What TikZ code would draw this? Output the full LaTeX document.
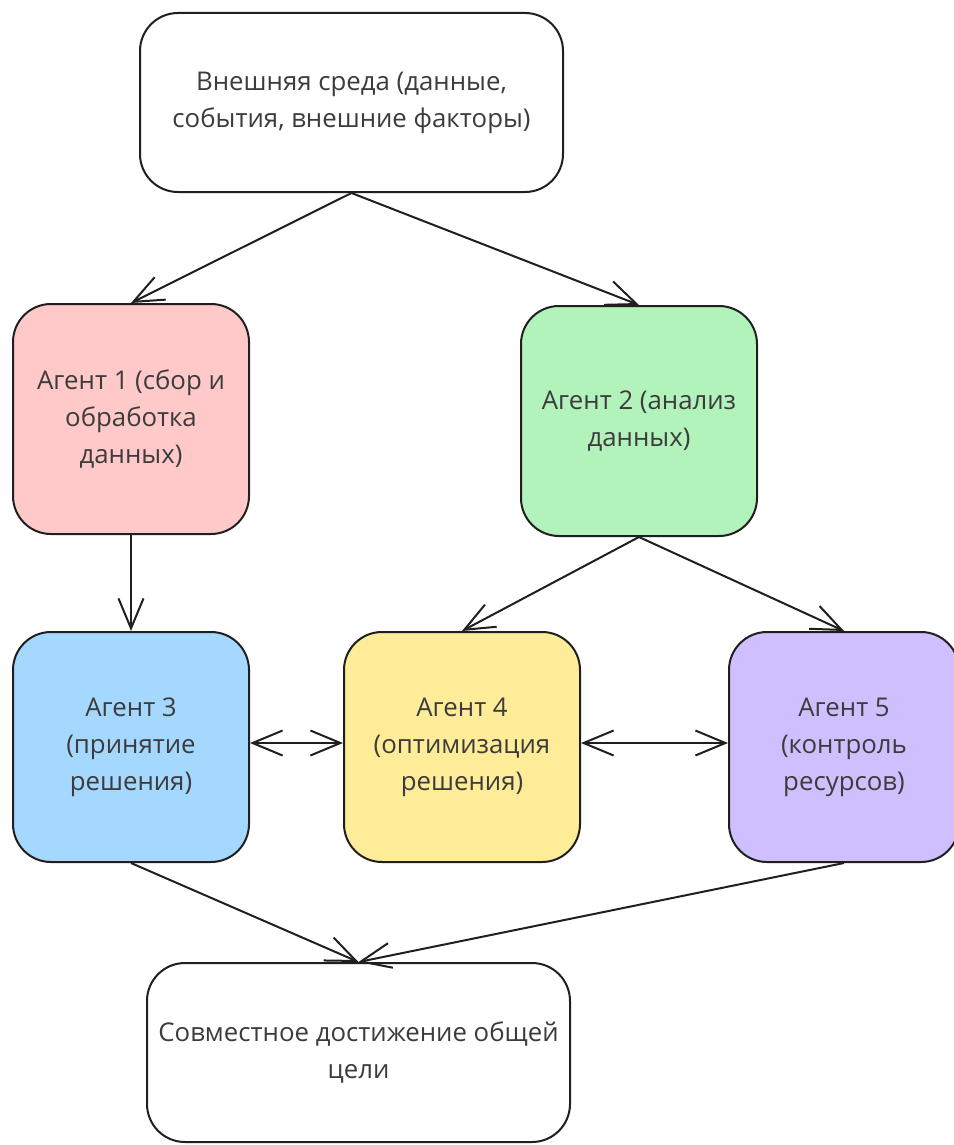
\documentclass[tikz,border=0pt]{standalone}
\usepackage{fontspec}
\setmainfont{Open Sans}
\usepackage{tikz}
\usetikzlibrary{arrows.meta,positioning}
\definecolor{txtgray}{HTML}{3C3C3C}
\definecolor{agentred}{HTML}{FFC9C9}
\definecolor{agentgreen}{HTML}{B2F2BB}
\definecolor{agentblue}{HTML}{A5D8FF}
\definecolor{agentyellow}{HTML}{FFEC99}
\definecolor{agentviolet}{HTML}{D0BFFF}

\begin{document}
\begin{tikzpicture}[x=1pt,y=-1pt,->,>={Straight Barb[length=30pt,width=25pt]},
                    line width=2pt,
                    every edge/.append style={draw=black!88},
                    main node/.style={rectangle,rounded corners=38pt,draw=black!88,line width=2pt,
                      align=center,text=txtgray,font=\fontsize{25.8pt}{37pt}\selectfont,
                      inner sep=0pt,execute at begin node={\rule{0pt}{34pt}}},
                    goal node/.style={main node,fill=white,minimum width=423pt,minimum height=179pt},
                    agent node/.style={main node,minimum width=236pt,minimum height=230pt}]
  \useasboundingbox (0,0) rectangle (953,1145);

  \node[goal node] (env) at (351.5,102.5) {Внешняя среда (данные,\\события, внешние факторы)};
  \node[agent node,fill=agentred] (a1) at (131,419) {Агент 1 (сбор и\\обработка\\данных)};
  \node[agent node,fill=agentgreen] (a2) at (639,421) {Агент 2 (анализ\\данных)};
  \node[agent node,fill=agentblue] (a3) [below=96pt of a1] {Агент 3\\(принятие\\решения)};
  \node[agent node,fill=agentyellow] (a4) [right=93pt of a3] {Агент 4\\(оптимизация\\решения)};
  \node[agent node,fill=agentviolet,minimum width=230pt] (a5) [right=147pt of a4] {Агент 5\\(контроль\\ресурсов)};
  \node[goal node] (goal) at (358.5,1052.5) {Совместное достижение общей\\цели};

  \path
    (env.south) edge (a1.north)
                edge (a2.north)
    (a1.south)  edge (a3.north)
    (a2.south)  edge (a4.north)
                edge (a5.north)
    (a3.south)  edge (goal.north)
    (a5.south)  edge (goal.north)
    ;
  \draw[<->,draw=black!88] ([yshift=4pt]a3.east) -- ([yshift=4pt]a4.west);
  \draw[<->,draw=black!88] ([yshift=4pt]a4.east) -- ([yshift=4pt]a5.west);
\end{tikzpicture}
\end{document}
